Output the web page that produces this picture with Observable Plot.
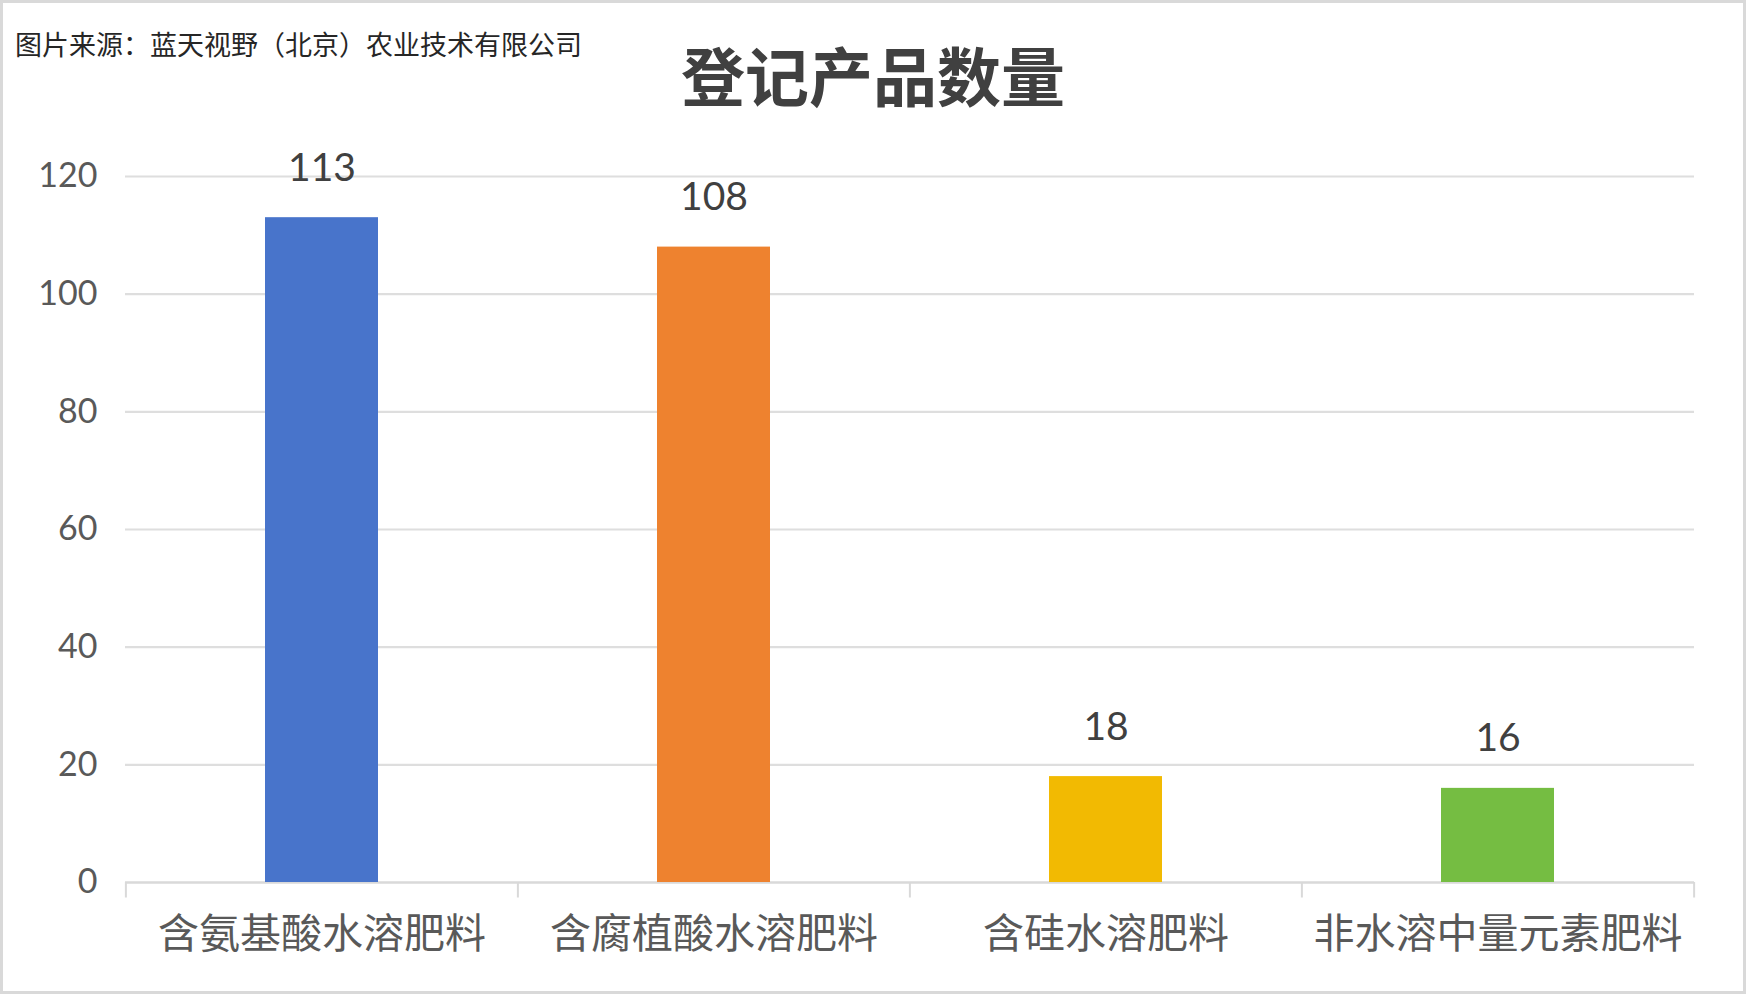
<!DOCTYPE html>
<html><head><meta charset="utf-8">
<script src="https://cdn.jsdelivr.net/npm/d3@7"></script>
<script src="https://cdn.jsdelivr.net/npm/@observablehq/plot@0.6"></script>
<style>
html,body{margin:0;padding:0;background:#fff;}
#wrap{position:relative;width:1746px;height:994px;overflow:hidden;background:#fff;}
#chart{position:absolute;left:0;top:0;}
#frame{position:absolute;left:0;top:0;width:1746px;height:994px;box-sizing:border-box;border:3px solid #d9d9d9;pointer-events:none;}
#source{position:absolute;left:15px;top:30px;font-family:"Noto Sans CJK SC",sans-serif;font-size:27px;line-height:1;color:#262626;white-space:nowrap;}
#title{position:absolute;left:0;top:41px;width:1746px;text-align:center;font-family:"Noto Sans CJK SC",sans-serif;font-weight:bold;font-size:64px;line-height:1;color:#404040;white-space:nowrap;}
</style>
</head><body>
<div id="wrap">
  <div id="chart"></div>
  <div id="source"></div>
  <div id="title"></div>
  <div id="frame"></div>
</div>
<script>
const sourceText = "图片来源：蓝天视野（北京）农业技术有限公司";
const titleText = "登记产品数量";
const categories = ["含氨基酸水溶肥料", "含腐植酸水溶肥料", "含硅水溶肥料", "非水溶中量元素肥料"];
const counts = [113, 108, 18, 16];
const colors = ["#4874CB", "#EE822F", "#F2BA02", "#75BD42"];
const yTicks = [0, 20, 40, 60, 80, 100, 120];

document.getElementById("source").textContent = sourceText;
document.getElementById("title").textContent = titleText;

const W = 1746, H = 994, mt = 176, mb = 112, ml = 125, mr = 52;
const step = (W - ml - mr) / categories.length;
const data = categories.map((c, i) => ({category: c, count: counts[i], color: colors[i]}));

const chart = Plot.plot({
  width: W, height: H,
  marginTop: mt, marginBottom: mb, marginLeft: ml, marginRight: mr,
  style: {fontFamily: 'Lato, "Noto Sans CJK SC", sans-serif', background: "transparent", overflow: "visible"},
  x: {domain: categories, paddingInner: 0.713, paddingOuter: 0.3565, label: null},
  y: {domain: [0, 120], label: null},
  marks: [
    Plot.ruleY(yTicks.filter(v => v > 0), {stroke: "#dedede", strokeWidth: 2.2}),
    Plot.ruleY([0], {stroke: "#d9d9d9", strokeWidth: 2.4}),
    Plot.ruleX(categories, {x: d => d, dx: -step / 2, insetTop: H - mt - mb, insetBottom: -15.5, stroke: "#d9d9d9", strokeWidth: 2}),
    Plot.ruleX(categories.slice(-1), {x: d => d, dx: step / 2, insetTop: H - mt - mb, insetBottom: -15.5, stroke: "#d9d9d9", strokeWidth: 2}),
    Plot.barY(data, {x: "category", y: "count", fill: "color"}),
    Plot.text(data, {x: "category", y: "count", text: d => String(d.count), dy: -37, lineAnchor: "bottom", fontSize: 39, fill: "#404040"}),
    Plot.axisY({ticks: yTicks, tickSize: 0, tickPadding: 28, fontSize: 34, fill: "#595959", label: null}),
    Plot.axisX({tickSize: 0, tickPadding: 36, fontSize: 41, fill: "#595959", fontFamily: '"Noto Sans CJK SC", sans-serif', label: null})
  ]
});
document.getElementById("chart").appendChild(chart);
</script>
</body></html>
